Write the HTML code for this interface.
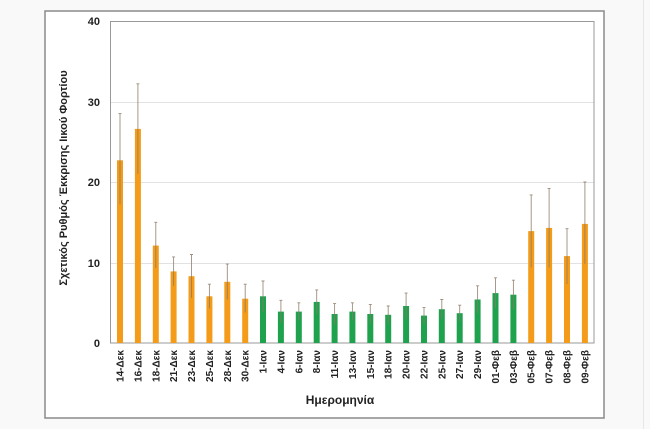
<!DOCTYPE html>
<html><head><meta charset="utf-8"><style>
body{margin:0;background:#f9f9f9;}
svg{display:block;font-family:"Liberation Sans","DejaVu Sans",sans-serif;}
</style></head><body>
<svg width="650" height="429" viewBox="0 0 650 429" xmlns="http://www.w3.org/2000/svg">
<rect x="0" y="0" width="650" height="429" fill="#f9f9f9"/>
<line x1="643.5" y1="0" x2="643.5" y2="429" stroke="#e6e6e6"/>
<rect x="45" y="11" width="559" height="407" fill="#fff" stroke="#8a8a8a" stroke-width="1.5"/>
<g stroke="#e2e2e2" stroke-width="1">
<line x1="110" y1="263.5" x2="594" y2="263.5"/>
<line x1="110" y1="182.5" x2="594" y2="182.5"/>
<line x1="110" y1="102.5" x2="594" y2="102.5"/>
</g>
<rect x="110.5" y="21.5" width="483.5" height="321.5" fill="none" stroke="#999" stroke-width="1"/>
<g font-size="11" font-weight="bold" fill="#222" text-anchor="end">
<text x="100" y="347">0</text><text x="100" y="267">10</text><text x="100" y="186">20</text><text x="100" y="106">30</text><text x="100" y="25">40</text>
</g>
<text transform="translate(67,178) rotate(-90)" font-size="11" font-weight="bold" fill="#222" text-anchor="middle">Σχετικός Ρυθμός Έκκρισης Ιικού Φορτίου</text>
<text x="340" y="404" font-size="12" font-weight="bold" fill="#222" text-anchor="middle">Ημερομηνία</text>
<g id="bars">
<rect x="117" y="160.3" width="6" height="182.7" fill="#f49c1a"/>
<rect x="134.9" y="128.9" width="6" height="214.1" fill="#f49c1a"/>
<rect x="152.8" y="245.6" width="6" height="97.4" fill="#f49c1a"/>
<rect x="170.6" y="271.4" width="6" height="71.6" fill="#f49c1a"/>
<rect x="188.5" y="276.2" width="6" height="66.8" fill="#f49c1a"/>
<rect x="206.4" y="296.3" width="6" height="46.7" fill="#f49c1a"/>
<rect x="224.3" y="281.8" width="6" height="61.2" fill="#f49c1a"/>
<rect x="242.2" y="298.7" width="6" height="44.3" fill="#f49c1a"/>
<rect x="260" y="296.3" width="6" height="46.7" fill="#1ea24e"/>
<rect x="277.9" y="311.6" width="6" height="31.4" fill="#1ea24e"/>
<rect x="295.8" y="311.6" width="6" height="31.4" fill="#1ea24e"/>
<rect x="313.7" y="301.9" width="6" height="41.1" fill="#1ea24e"/>
<rect x="331.6" y="314" width="6" height="29" fill="#1ea24e"/>
<rect x="349.4" y="311.6" width="6" height="31.4" fill="#1ea24e"/>
<rect x="367.3" y="314" width="6" height="29" fill="#1ea24e"/>
<rect x="385.2" y="314.8" width="6" height="28.2" fill="#1ea24e"/>
<rect x="403.1" y="306" width="6" height="37" fill="#1ea24e"/>
<rect x="421" y="315.6" width="6" height="27.4" fill="#1ea24e"/>
<rect x="438.8" y="309.2" width="6" height="33.8" fill="#1ea24e"/>
<rect x="456.7" y="313.2" width="6" height="29.8" fill="#1ea24e"/>
<rect x="474.6" y="299.5" width="6" height="43.5" fill="#1ea24e"/>
<rect x="492.5" y="293.1" width="6" height="49.9" fill="#1ea24e"/>
<rect x="510.4" y="294.7" width="6" height="48.3" fill="#1ea24e"/>
<rect x="528.2" y="231.1" width="6" height="111.9" fill="#f49c1a"/>
<rect x="546.1" y="227.9" width="6" height="115.1" fill="#f49c1a"/>
<rect x="564" y="256.1" width="6" height="86.9" fill="#f49c1a"/>
<rect x="581.9" y="223.9" width="6" height="119.1" fill="#f49c1a"/>
</g>
<g stroke="#8c7a66" stroke-width="0.9" opacity="0.85">
<path d="M120 113.6V204.5M118.5 113.6h3"/>
<path d="M137.9 83.8V173.9M136.4 83.8h3"/>
<path d="M155.8 222.3V268.1M154.3 222.3h3"/>
<path d="M173.6 256.9V285.8M172.1 256.9h3"/>
<path d="M191.5 254.5V297.9M190 254.5h3"/>
<path d="M209.4 284.2V308.4M207.9 284.2h3"/>
<path d="M227.3 264.1V299.5M225.8 264.1h3"/>
<path d="M245.2 284.2V312.4M243.7 284.2h3"/>
<path d="M263 281V311.6M261.5 281h3"/>
<path d="M280.9 300.3V322.9M279.4 300.3h3"/>
<path d="M298.8 302.8V320.5M297.3 302.8h3"/>
<path d="M316.7 289.9V314M315.2 289.9h3"/>
<path d="M334.6 303.6V324.5M333.1 303.6h3"/>
<path d="M352.4 302.8V320.5M350.9 302.8h3"/>
<path d="M370.3 304.4V323.7M368.8 304.4h3"/>
<path d="M388.2 306V323.7M386.7 306h3"/>
<path d="M406.1 293.1V318.9M404.6 293.1h3"/>
<path d="M424 307.6V323.7M422.5 307.6h3"/>
<path d="M441.8 299.5V318.9M440.3 299.5h3"/>
<path d="M459.7 305.2V321.3M458.2 305.2h3"/>
<path d="M477.6 285.8V313.2M476.1 285.8h3"/>
<path d="M495.5 277.8V308.4M494 277.8h3"/>
<path d="M513.4 280.2V309.2M511.9 280.2h3"/>
<path d="M531.2 194.9V267.3M529.7 194.9h3"/>
<path d="M549.1 188.4V267.3M547.6 188.4h3"/>
<path d="M567 228.7V284.2M565.5 228.7h3"/>
<path d="M584.9 182V264.1M583.4 182h3"/>
</g>
<g font-size="10" font-weight="bold" fill="#222" text-anchor="end">
<text transform="translate(123.5,350) rotate(-90)">14-Δεκ</text>
<text transform="translate(141.4,350) rotate(-90)">16-Δεκ</text>
<text transform="translate(159.3,350) rotate(-90)">18-Δεκ</text>
<text transform="translate(177.1,350) rotate(-90)">21-Δεκ</text>
<text transform="translate(195,350) rotate(-90)">23-Δεκ</text>
<text transform="translate(212.9,350) rotate(-90)">25-Δεκ</text>
<text transform="translate(230.8,350) rotate(-90)">28-Δεκ</text>
<text transform="translate(248.7,350) rotate(-90)">30-Δεκ</text>
<text transform="translate(266.5,350) rotate(-90)">1-Ιαν</text>
<text transform="translate(284.4,350) rotate(-90)">4-Ιαν</text>
<text transform="translate(302.3,350) rotate(-90)">6-Ιαν</text>
<text transform="translate(320.2,350) rotate(-90)">8-Ιαν</text>
<text transform="translate(338.1,350) rotate(-90)">11-Ιαν</text>
<text transform="translate(355.9,350) rotate(-90)">13-Ιαν</text>
<text transform="translate(373.8,350) rotate(-90)">15-Ιαν</text>
<text transform="translate(391.7,350) rotate(-90)">18-Ιαν</text>
<text transform="translate(409.6,350) rotate(-90)">20-Ιαν</text>
<text transform="translate(427.5,350) rotate(-90)">22-Ιαν</text>
<text transform="translate(445.3,350) rotate(-90)">25-Ιαν</text>
<text transform="translate(463.2,350) rotate(-90)">27-Ιαν</text>
<text transform="translate(481.1,350) rotate(-90)">29-Ιαν</text>
<text transform="translate(499,350) rotate(-90)">01-Φεβ</text>
<text transform="translate(516.9,350) rotate(-90)">03-Φεβ</text>
<text transform="translate(534.7,350) rotate(-90)">05-Φεβ</text>
<text transform="translate(552.6,350) rotate(-90)">07-Φεβ</text>
<text transform="translate(570.5,350) rotate(-90)">08-Φεβ</text>
<text transform="translate(588.4,350) rotate(-90)">09-Φεβ</text>
</g>
</svg>
</body></html>
